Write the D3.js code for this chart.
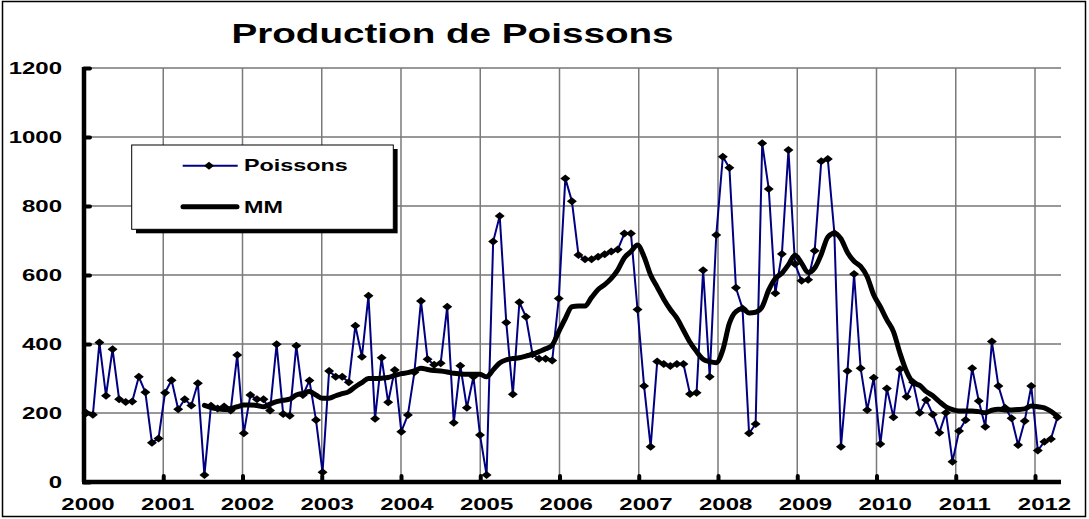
<!DOCTYPE html>
<html>
<head>
<meta charset="utf-8">
<script src="https://cdn.jsdelivr.net/npm/d3@7"></script>
<style>
body { margin: 0; background: #fff; }
svg text { font-family: "Liberation Sans", Arial, sans-serif; font-weight: bold; fill: #000; }
</style>
</head>
<body>
<svg id="chart" width="1089" height="519"></svg>
<script>
// monthly values, Jan 2000 .. May 2012
var years = [2000, 2001, 2002, 2003, 2004, 2005, 2006, 2007, 2008, 2009, 2010, 2011, 2012];
var yTicks = [0, 200, 400, 600, 800, 1000, 1200];

var poissons = [
    200, 195, 404, 250, 385, 240, 232, 233, 305, 260, 114, 126,
    259, 295, 211, 240, 222, 286, 20, 221, 213, 219, 207, 368,
    141, 252, 240, 240, 207, 399, 197, 192, 395, 252, 294, 180,
    28, 322, 305, 305, 289, 453, 363, 540, 183, 360, 231, 325,
    146, 194, 318, 525, 356, 340, 344, 508, 172, 337, 215, 305,
    136, 20, 697, 771, 462, 254, 521, 479, 370, 357, 357, 352,
    532, 880, 814, 658, 646, 646, 653, 660, 668, 674, 720, 720,
    500, 278, 102, 349, 342, 336, 342, 342, 255, 259, 614, 305,
    716, 943, 911, 563, 503, 141, 168, 982, 849, 547, 661, 962,
    632, 583, 586, 670, 930, 936, 721, 102, 322, 603, 330, 209,
    302, 110, 271, 188, 327, 247, 289, 201, 238, 196, 143, 201,
    59, 148, 180, 330, 235, 160, 407, 278, 215, 185, 107, 177,
    278, 91, 117, 125, 188
];

// moving average (MM) starts at month index 18 (Jul 2001)
var mmStart = 18;
var mm = [
    222, 216, 212, 210, 213, 218, 223, 223, 222, 218, 226, 233,
    237, 240, 252, 257, 262, 252, 243, 243, 250, 256, 262, 276,
    288, 300, 300, 301, 303, 309, 314, 317, 322, 330, 326, 323,
    322, 319, 315, 313, 312, 312, 312, 305, 325, 345, 354, 358,
    360, 365, 370, 378, 386, 397, 436, 474, 508, 510, 510, 535,
    558, 572, 590, 615, 650, 668, 687, 653, 600, 565, 530, 500,
    475, 440, 405, 378, 356, 349, 346, 383, 460, 494, 502, 490,
    492, 508, 557, 590, 605, 630, 658, 634, 607, 620, 660, 710,
    721, 705, 665, 640, 625, 595, 542, 508, 470, 436, 373, 320,
    288, 280, 262, 250, 233, 218, 210, 206, 206, 206, 204, 201,
    208, 211, 209, 209, 210, 212, 220, 218, 215, 205, 190
];

var SX = 1.5; // fonts are drawn wide in the original
var svg = d3.select("#chart");
var plotLeft = 84, plotRight = 1061;

var x = d3.scaleLinear().domain([0, poissons.length - 1]).range([86.3, 1057.5]);
var xYear = d3.scaleLinear().domain([2000, 2012]).range([84, 1035]);
var xLabel = d3.scaleLinear().domain([2000, 2012]).range([87.5, 1044]);
var y = d3.scaleLinear().domain([0, 1200]).range([482, 68]);

function wideText(sel, tx, ty, txt, size, sx, anchor) {
    return sel.append("text")
        .attr("transform", "translate(" + tx + "," + ty + ") scale(" + sx + ",1)")
        .attr("font-size", size)
        .attr("text-anchor", anchor || "start")
        .text(txt);
}

// outer frame
svg.append("rect")
    .attr("x", 2.5).attr("y", 1.5).attr("width", 1083).attr("height", 515)
    .attr("fill", "#fff").attr("stroke", "#000").attr("stroke-width", 1.5);

// grid
svg.append("g").selectAll("line").data(yTicks.slice(1)).enter().append("line")
    .attr("x1", plotLeft).attr("x2", plotRight)
    .attr("y1", function(d) { return y(d) }).attr("y2", function(d) { return y(d) })
    .attr("stroke", "#333").attr("stroke-width", 1.2);
svg.append("g").selectAll("line").data(years.slice(1)).enter().append("line")
    .attr("x1", function(d) { return xYear(d) }).attr("x2", function(d) { return xYear(d) })
    .attr("y1", y(1200)).attr("y2", y(0))
    .attr("stroke", "#7a7a7a").attr("stroke-width", 1.5);

// title
wideText(svg, 452.5, 43.3, "Production de Poissons", 28, 1.38, "middle");

// y axis
var yAxis = svg.append("g").attr("transform", "translate(" + plotLeft + ",0)")
    .call(d3.axisLeft(y).tickValues(yTicks).tickSize(-6).tickPadding(22).tickFormat(d3.format("d")));
yAxis.select(".domain").remove();
yAxis.attr("font-family", null).attr("font-size", null);
yAxis.selectAll(".tick line").attr("stroke-width", 4).attr("stroke-linecap", "round");
yAxis.selectAll(".tick text")
    .attr("font-size", 16)
    .attr("x", -22 / SX)
    .attr("transform", "scale(" + SX + ",1)");
svg.append("line")
    .attr("x1", plotLeft).attr("x2", plotLeft).attr("y1", y(1200) - 1).attr("y2", y(0))
    .attr("stroke", "#000").attr("stroke-width", 4.5);

// x axis ticks on the year lines, labels on their own spacing
var xTicks = svg.append("g").attr("transform", "translate(0," + y(0) + ")")
    .call(d3.axisBottom(xYear).tickValues(years.slice(1)).tickSize(-6).tickFormat(""));
xTicks.select(".domain").remove();
xTicks.selectAll(".tick line").attr("stroke-width", 4).attr("stroke-linecap", "round");

var xLabels = svg.append("g").attr("transform", "translate(0," + y(0) + ")")
    .call(d3.axisBottom(xLabel).tickValues(years).tickSize(0).tickPadding(17).tickFormat(d3.format("d")));
xLabels.select(".domain").remove();
xLabels.attr("font-family", null).attr("font-size", null);
xLabels.selectAll(".tick text").attr("font-size", 16).attr("transform", "scale(" + SX + ",1)");

svg.append("line")
    .attr("x1", plotLeft - 2).attr("x2", plotRight).attr("y1", y(0)).attr("y2", y(0))
    .attr("stroke", "#000").attr("stroke-width", 4.5);

// series
var mmSeries = poissons.map(function(v, i) { return i >= mmStart ? mm[i - mmStart] : null });

var line = d3.line()
    .x(function(d, i) { return x(i) })
    .y(function(d) { return y(d) });

svg.append("path").datum(poissons)
    .attr("d", line)
    .attr("fill", "none").attr("stroke", "#000080").attr("stroke-width", 2);

var mmLine = d3.line()
    .defined(function(d) { return d != null })
    .x(function(d, i) { return x(i) })
    .y(function(d) { return y(d) })
    .curve(d3.curveMonotoneX);

svg.append("path").datum(mmSeries)
    .attr("d", mmLine)
    .attr("fill", "none").attr("stroke", "#000").attr("stroke-width", 5)
    .attr("stroke-linejoin", "round").attr("stroke-linecap", "round");

var diamond = "M0,-4L5,0L0,4L-5,0Z";
svg.append("g").selectAll("path").data(poissons).enter().append("path")
    .attr("d", diamond)
    .attr("transform", function(d, i) { return "translate(" + x(i) + "," + y(d) + ")" })
    .attr("fill", "#000");

// legend
var lg = svg.append("g");
lg.append("rect").attr("x", 136).attr("y", 149).attr("width", 261.6).attr("height", 84.3).attr("fill", "#000");
lg.append("rect").attr("x", 131.7).attr("y", 145).attr("width", 261.6).attr("height", 84.3)
    .attr("fill", "#fff").attr("stroke", "#000").attr("stroke-width", 1);
lg.append("line").attr("x1", 182.7).attr("x2", 237.7).attr("y1", 165.7).attr("y2", 165.7)
    .attr("stroke", "#000080").attr("stroke-width", 2);
lg.append("path").attr("d", diamond).attr("transform", "translate(209,165.7)").attr("fill", "#000");
wideText(lg, 244, 170.7, "Poissons", 16, 1.46);
lg.append("line").attr("x1", 183).attr("x2", 237).attr("y1", 206.7).attr("y2", 206.7)
    .attr("stroke", "#000").attr("stroke-width", 5).attr("stroke-linecap", "round");
wideText(lg, 244, 212.7, "MM", 16, 1.46);
</script>
</body>
</html>
